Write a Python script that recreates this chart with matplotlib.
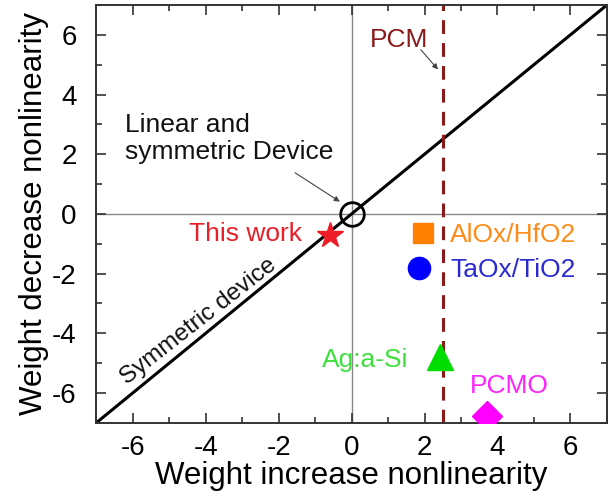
import numpy as np
import matplotlib
matplotlib.use("Agg")
import matplotlib.pyplot as plt
from matplotlib.ticker import MultipleLocator

plt.rcParams['font.family'] = ['Liberation Sans', 'DejaVu Sans']
plt.rcParams['axes.unicode_minus'] = False

# device data (weight increase nonlinearity, weight decrease nonlinearity)
names = ["This work", "AlOx/HfO2", "TaOx/TiO2", "Ag:a-Si", "PCMO"]
x_nl = [-0.6, 1.95, 1.85, 2.42, 3.7]
y_nl = [-0.7, -0.65, -1.8, -4.8, -6.78]
markers = ["*", "s", "o", "^", "D"]
mcolors = ["#ee1c24", "#ff8000", "#0000ff", "#00dd00", "#ff00ff"]
tcolors = ["#e8202a", "#ff8c1a", "#2a2ad0", "#3ee03e", "#ff22ff"]
msizes = [19, 14, 16, 19, 15]

pcm_x = 2.5
lims = [-7, 7]
ticks = [-6, -4, -2, 0, 2, 4, 6]

fig = plt.figure(figsize=(6.13, 5.01), dpi=100)
ax = fig.add_axes([0.157, 0.156, 0.833, 0.834])

ax.axhline(0, color="#888888", lw=1.0, zorder=1)
ax.axvline(0, color="#888888", lw=1.0, zorder=1)
ax.plot(lims, lims, color="black", lw=2.2, zorder=2)
ax.axvline(pcm_x, color="#8b1a1a", lw=2.2, ls=(0, (4.5, 3)), zorder=2)

for i in range(len(names)):
    ax.plot(x_nl[i], y_nl[i], marker=markers[i], color=mcolors[i],
            ms=msizes[i], ls="none", zorder=4, clip_on=True)

# open circle: linear and symmetric device
ax.plot(0, 0, marker="o", ms=17, mfc="none", mec="black", mew=2, zorder=5)

fs = 19
ax.text(-1.36, -0.92, "This work", color=tcolors[0], fontsize=fs, ha="right", va="baseline")
ax.text(2.7, -0.93, "AlOx/HfO2", color=tcolors[1], fontsize=fs, ha="left", va="baseline")
ax.text(2.7, -2.11, "TaOx/TiO2", color=tcolors[2], fontsize=fs, ha="left", va="baseline")
ax.text(1.55, -5.12, "Ag:a-Si", color=tcolors[3], fontsize=fs, ha="right", va="baseline")
ax.text(3.25, -6.0, "PCMO", color=tcolors[4], fontsize=fs, ha="left", va="baseline")

ax.text(1.3, 5.58, "PCM", color="#8b1a1a", fontsize=fs, ha="center", va="baseline")
ax.annotate("", xy=(2.37, 4.84), xytext=(1.9, 5.5),
            arrowprops=dict(arrowstyle="-|>", color="#444444", lw=0.8,
                            shrinkA=0, shrinkB=0, mutation_scale=8))
ax.text(-6.2, 3.37, "Linear and\nsymmetric Device", fontsize=fs, ha="left",
        va="top", color="#111111", linespacing=1.15)
ax.annotate("", xy=(-0.32, 0.41), xytext=(-1.55, 1.38),
            arrowprops=dict(arrowstyle="-|>", color="#444444", lw=0.8,
                            shrinkA=0, shrinkB=0, mutation_scale=8))

ax.text(-4.0, -3.9, "Symmetric device", fontsize=17.5, rotation=38,
        rotation_mode="anchor", ha="center", va="bottom", color="#111111")

ax.set_xlim(lims)
ax.set_ylim(lims)
ax.set_xticks(ticks)
ax.set_yticks(ticks)
ax.xaxis.set_minor_locator(MultipleLocator(1))
ax.yaxis.set_minor_locator(MultipleLocator(1))
ax.tick_params(which="both", direction="in", top=True, right=True,
               width=1.2, color="#333333")
ax.tick_params(which="major", length=7, labelsize=20)
ax.tick_params(axis="x", which="major", pad=9)
ax.tick_params(axis="y", which="major", pad=14)
ax.tick_params(which="minor", length=4)
for s in ax.spines.values():
    s.set_linewidth(1.4)
    s.set_color("#333333")

ax.set_xlabel("Weight increase nonlinearity", fontsize=22.5, labelpad=0)
ax.set_ylabel("Weight decrease nonlinearity", fontsize=22.5, labelpad=2)

fig.savefig("out.png", dpi=100)
